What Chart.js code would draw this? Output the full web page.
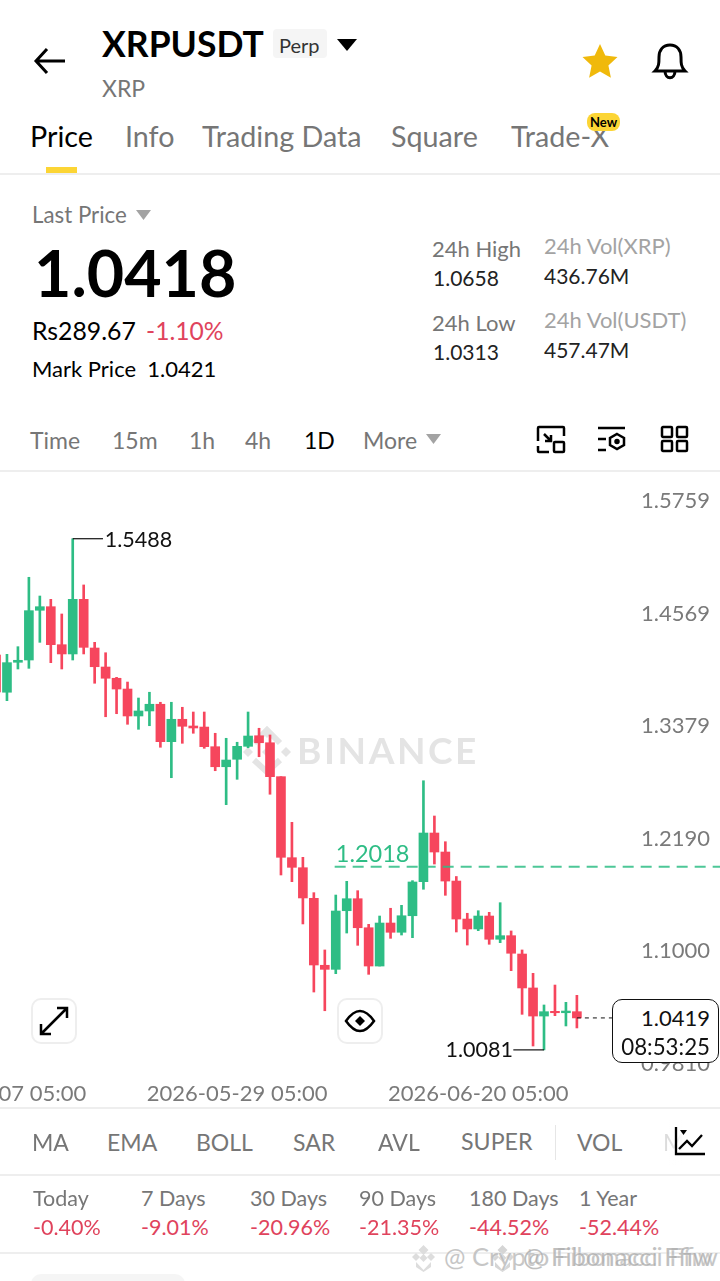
<!DOCTYPE html>
<html><head><meta charset="utf-8">
<script src="https://cdn.jsdelivr.net/npm/chart.js@4"></script>
<style>
html,body{margin:0;padding:0;background:#fff}
#page{position:relative;width:720px;height:1281px;overflow:hidden;background:#fff;font-family:Lato,sans-serif;color:#000}
canvas{position:absolute;left:-110px;top:470px}
.t{position:absolute;white-space:nowrap;transform:translateY(-50%);line-height:1}
.g{color:#767676}.l{color:#a3a3a3}.r{color:#e0435c}.b{font-weight:700}
.hr{position:absolute;left:0;width:720px;height:1.5px;background:#eeeeee}
svg{position:absolute;overflow:visible}
.btn{position:absolute;width:42px;height:42px;border:2px solid #eeeeee;border-radius:10px;background:#fff}
#box{position:absolute;left:612px;top:999px;width:105px;height:62px;border:1.5px solid #111;border-radius:10px;background:#fff}
</style></head><body><div id="page">
<canvas id="c" width="830" height="637"></canvas>

<svg style="left:34px;top:47px" width="32" height="28" fill="none" stroke="#000" stroke-width="3"><path d="M31 14H2M13 2 2 14l11 12"/></svg>
<div class="t b" style="left:102px;top:44px;font-size:35.500px">XRPUSDT</div>
<div style="position:absolute;left:273px;top:29px;width:54px;height:29px;background:#f5f5f5;border-radius:4px"></div>
<div class="t" style="left:279px;top:45px;font-size:20px;color:#333">Perp</div>
<svg style="left:337px;top:39px" width="20" height="12"><path d="M0 0H20L10 12Z" fill="#000"/></svg>
<div class="t g" style="left:102px;top:88px;font-size:23px">XRP</div>
<svg style="left:582px;top:43px" width="36" height="35"><path d="M18 1l5.3 11.6 12.2 1.4-9.1 8.4 2.5 12.3L18 28.6 7.100 34.700l2.500-12.300L.5 14l12.200-1.400Z" fill="#f0b90b"/></svg>
<svg style="left:653px;top:43px" width="34" height="36" fill="none" stroke="#000" stroke-width="3"><path d="M2 28c4-4 4-8 4-14C6 7 10 2 17 2s11 5 11 12c0 6 0 10 4 14ZM12 28c0 9 10 9 10 0"/></svg>

<div class="t" style="left:30px;top:135.500px;font-size:28.700px">Price</div>
<div class="t g" style="left:125px;top:135.500px;font-size:28.700px">Info</div>
<div class="t g" style="left:202px;top:135.500px;font-size:28.700px">Trading Data</div>
<div class="t g" style="left:391px;top:135.500px;font-size:28.700px">Square</div>
<div class="t g" style="left:511px;top:135.500px;font-size:28.700px">Trade-X</div>
<div style="position:absolute;left:587px;top:113px;width:33px;height:18px;background:#fcd535;border-radius:8px"></div>
<div class="t b" style="left:590px;top:122px;font-size:13px">New</div>
<div style="position:absolute;left:46px;top:167px;width:31px;height:6px;background:#fcd535"></div>
<div class="hr" style="top:173px"></div>

<div class="t g" style="left:32px;top:215px;font-size:22.300px">Last Price</div>
<svg style="left:136px;top:210px" width="15" height="10"><path d="M0 0H15L7.500 10Z" fill="#a3a3a3"/></svg>
<div class="t b" style="left:34px;top:272px;font-size:64.500px">1.0418</div>
<div class="t" style="left:32px;top:331px;font-size:24.800px">Rs289.67</div>
<div class="t r" style="left:146px;top:331px;font-size:24.600px">-1.10%</div>
<div class="t" style="left:32px;top:369px;font-size:22px">Mark Price&nbsp; 1.0421</div>
<div class="t g" style="left:432px;top:249px;font-size:22px">24h High</div>
<div class="t" style="left:433px;top:277px;font-size:21px;color:#222">1.0658</div>
<div class="t g" style="left:432px;top:323px;font-size:22px">24h Low</div>
<div class="t" style="left:433px;top:351px;font-size:21px;color:#222">1.0313</div>
<div class="t l" style="left:544px;top:246px;font-size:22px">24h Vol(XRP)</div>
<div class="t" style="left:544px;top:275px;font-size:21px;color:#222">436.76M</div>
<div class="t l" style="left:544px;top:320px;font-size:22px">24h Vol(USDT)</div>
<div class="t" style="left:544px;top:349px;font-size:21px;color:#222">457.47M</div>

<div class="t g" style="left:30px;top:440px;font-size:23px">Time</div>
<div class="t g" style="left:112px;top:440px;font-size:23px">15m</div>
<div class="t g" style="left:189px;top:440px;font-size:23px">1h</div>
<div class="t g" style="left:245px;top:440px;font-size:23px">4h</div>
<div class="t" style="left:304px;top:439.500px;font-size:23px">1D</div>
<div class="t g" style="left:363px;top:440px;font-size:23px">More</div>
<svg style="left:426px;top:434px" width="15" height="10"><path d="M0 0H15L7.500 10Z" fill="#a3a3a3"/></svg>
<svg style="left:537px;top:426px" width="28" height="27" fill="none" stroke="#000" stroke-width="2.500"><path d="M1 15V2Q1 1 2 1H26Q27 1 27 2V10M12 26H2Q1 26 1 25V20M7 8l7 7M8 15h6V9"/><rect x="17" y="16" width="10" height="10" rx="1"/></svg>
<svg style="left:597px;top:426px" width="30" height="27" fill="none" stroke="#000" stroke-width="2.500"><path d="M1 2H28M1 13H9M1 24H9"/><path d="M20 8l7 4v7l-7 4-7-4v-7Z"/><circle cx="20" cy="15.500" r="1.500" fill="#000"/></svg>
<svg style="left:661px;top:426px" width="28" height="27" fill="none" stroke="#000" stroke-width="2.500"><rect x="1" y="1" width="10" height="10" rx="1"/><rect x="16" y="1" width="10" height="10" rx="1"/><rect x="1" y="15" width="10" height="10" rx="1"/><rect x="16" y="15" width="10" height="10" rx="1"/></svg>
<div class="hr" style="top:470px"></div>

<div class="btn" style="left:31px;top:998px"></div>
<svg style="left:39px;top:1006px" width="30" height="30" fill="none" stroke="#000" stroke-width="2.500"><path d="M2 28 28 2M18 2H28V12M2 18V28H12"/></svg>
<div class="btn" style="left:337px;top:998px"></div>
<svg style="left:345px;top:1010px" width="30" height="22" fill="none" stroke="#000" stroke-width="2.500"><path d="M1 11Q15-9 29 11 15 31 1 11Z"/><path d="M15 6l5 5-5 5-5-5Z" fill="#000" stroke="none"/></svg>

<div id="box"></div>
<div class="t" style="right:10px;top:1018px;font-size:22px;color:#111">1.0419</div>
<div class="t" style="right:10px;top:1047px;font-size:22.300px;color:#111">08:53:25</div>

<div class="hr" style="top:1107px"></div>
<div class="t g" style="left:32px;top:1142px;font-size:23px">MA</div>
<div class="t g" style="left:107px;top:1142px;font-size:23px">EMA</div>
<div class="t g" style="left:196px;top:1142px;font-size:23px">BOLL</div>
<div class="t g" style="left:293px;top:1142px;font-size:23px">SAR</div>
<div class="t g" style="left:378px;top:1142px;font-size:23px">AVL</div>
<div class="t g" style="left:461px;top:1142px;font-size:23.200px">SUPER</div>
<div style="position:absolute;left:555px;top:1125px;width:1px;height:35px;background:#e6e6e6"></div>
<div class="t g" style="left:577px;top:1142px;font-size:23px">VOL</div>
<div class="t" style="left:663px;top:1142px;font-size:23px;color:#dcdcdc">M</div>
<div style="position:absolute;left:668px;top:1120px;width:52px;height:45px;background:linear-gradient(90deg,rgba(255,255,255,0),#fff 30%)"></div>
<svg style="left:675px;top:1127px" width="31" height="29" fill="none" stroke="#000" stroke-width="2.300"><path d="M1 0V27H30"/><path d="M4 22l8-8 5 5 10-11"/><path d="M5 3H12L8.500 8Z" fill="#000" stroke="none"/></svg>
<div class="hr" style="top:1174px"></div>

<div class="t g" style="left:33px;top:1199px;font-size:21.500px">Today</div>
<div class="t g" style="left:141px;top:1199px;font-size:21.500px">7 Days</div>
<div class="t g" style="left:250px;top:1199px;font-size:21.500px">30 Days</div>
<div class="t g" style="left:359px;top:1199px;font-size:21.500px">90 Days</div>
<div class="t g" style="left:469px;top:1199px;font-size:21.500px">180 Days</div>
<div class="t g" style="left:579px;top:1199px;font-size:21.500px">1 Year</div>
<div class="t r" style="left:33px;top:1228px;font-size:21.500px">-0.40%</div>
<div class="t r" style="left:141px;top:1228px;font-size:21.500px">-9.01%</div>
<div class="t r" style="left:250px;top:1228px;font-size:21.500px">-20.96%</div>
<div class="t r" style="left:359px;top:1228px;font-size:21.500px">-21.35%</div>
<div class="t r" style="left:469px;top:1228px;font-size:21.500px">-44.52%</div>
<div class="t r" style="left:579px;top:1228px;font-size:21.500px">-52.44%</div>
<div class="hr" style="top:1252px"></div>
<div style="position:absolute;left:31px;top:1274px;width:154px;height:20px;background:#f5f5f5;border-radius:12px"></div>

<svg style="left:411px;top:1244px" width="25" height="28" fill="#dddddd"><path d="M12.500 1l5 5-5 5-5-5ZM5 9l4 4-4 4-4-4ZM20 9l4 4-4 4-4-4ZM12.500 10l4 4-4 4-4-4ZM5 18l7.500 8 7.500-8v5l-7.500 5L5 23Z"/></svg>
<svg style="left:490px;top:1244px" width="25" height="28" fill="#d5d5d5"><path d="M12.500 1l5 5-5 5-5-5ZM5 9l4 4-4 4-4-4ZM20 9l4 4-4 4-4-4ZM12.500 10l4 4-4 4-4-4ZM5 18l7.500 8 7.500-8v5l-7.500 5L5 23Z"/></svg>
<div class="t" style="left:444px;top:1257px;font-size:25.600px;color:#bdbdbd;opacity:.85;text-shadow:0 0 2px #fff">@ Crypto Fibonacci Ffiw</div>
<div class="t" style="left:523px;top:1257px;font-size:25.600px;color:#b0b0b0;opacity:.8;text-shadow:0 0 2px #fff">@ Fibonacci Ffiw</div>
</div>
<script>
// Daily candles, 2026-05-07 to 2026-06-29 (54 sessions)
const firstDay = '2026-05-07';
const opens  = [1.4258,1.3864,1.4181,1.4205,1.4731,1.4769,1.4367,1.4269,1.4847,1.4332,1.4131,1.4012,1.3898,1.3613,1.3666,1.3737,1.3341,1.3578,1.3507,1.3496,1.3288,1.3076,1.3155,1.3292,1.3404,1.3330,1.2971,1.2114,1.2008,1.1684,1.0976,1.0933,1.1553,1.1680,1.1373,1.0968,1.1423,1.1325,1.1500,1.1860,1.2375,1.2174,1.1867,1.1465,1.1360,1.1497,1.1251,1.1289,1.1095,1.0736,1.0439,1.0489,1.0474,1.0485];
const highs  = [1.4300,1.4265,1.4346,1.5080,1.4882,1.4847,1.4692,1.5488,1.4999,1.4392,1.4282,1.4022,1.3972,1.3803,1.3864,1.3758,1.3758,1.3705,1.3655,1.3655,1.3430,1.3377,1.3335,1.3655,1.3483,1.3412,1.2971,1.2488,1.2118,1.1744,1.1138,1.1719,1.1864,1.1765,1.1409,1.1497,1.1579,1.1610,1.1871,1.2928,1.2555,1.2283,1.1915,1.1526,1.1553,1.1536,1.1638,1.1339,1.1138,1.0891,1.0556,1.0767,1.0584,1.0658];
const lows   = [1.3760,1.3775,1.4110,1.4117,1.4392,1.4177,1.4110,1.4205,1.4269,1.3959,1.3605,1.3637,1.3525,1.3472,1.3510,1.3282,1.2960,1.3324,1.3430,1.3271,1.3034,1.2675,1.2943,1.3277,1.3182,1.2785,1.1931,1.1860,1.1413,1.0693,1.0495,1.0887,1.1317,1.1187,1.0880,1.0968,1.1261,1.1296,1.1268,1.1780,1.2047,1.1716,1.1328,1.1190,1.1342,1.1198,1.1215,1.0919,1.0457,1.0122,1.0081,1.0443,1.0334,1.0313];
const closes = [1.3867,1.4177,1.4202,1.4727,1.4769,1.4367,1.4269,1.4847,1.4339,1.4134,1.4012,1.3898,1.3613,1.3666,1.3737,1.3341,1.3578,1.3504,1.3486,1.3288,1.3076,1.3147,1.3292,1.3401,1.3330,1.2971,1.2118,1.2012,1.1688,1.0979,1.0933,1.1550,1.1680,1.1373,1.0968,1.1423,1.1325,1.1500,1.1857,1.2375,1.2174,1.1867,1.1465,1.1360,1.1497,1.1251,1.1289,1.1103,1.0736,1.0439,1.0485,1.0474,1.0492,1.0419];

const priceTicks = [1.5759,1.4569,1.3379,1.2190,1.1000,0.9810];
const dateTickIndex = [0,22,44];
const dateTickLabels = ['2026-05-07 05:00','2026-05-29 05:00','2026-06-20 05:00'];

const highLabel = 1.5488, lowLabel = 1.0081, markLine = 1.2018, lastLine = 1.0419;
const highIndex = 7, lowIndex = 50, lastIndex = 53;

const GREEN='#2ebd85', RED='#f6465d', GREY='#7a7a7a';
const FONT='Lato, sans-serif';
const idx = opens.map((_,i)=>i);
const up = idx.map(i=>closes[i]>=opens[i]);
const colors = up.map(u=>u?GREEN:RED);

const overlay = {
  id:'overlay',
  beforeDatasetsDraw(chart){
    // Watermark
    const c=chart.ctx; c.save();
    const ox=110, oy=-470;
    c.fillStyle='#e4e4e4';
    c.font='bold 37px '+FONT; c.textBaseline='middle'; c.textAlign='left';
    c.letterSpacing='2.6px';
    c.fillText('BINANCE',297+ox,752+oy);
    c.letterSpacing='0px';
    const d=(x,y,r)=>{c.beginPath();c.moveTo(x,y-r);c.lineTo(x+r,y);c.lineTo(x,y+r);c.lineTo(x-r,y);c.closePath();c.fill();};
    d(267+ox,733+oy,5);d(248+ox,752+oy,5);d(286+ox,752+oy,5);d(267+ox,752+oy,5);
    c.strokeStyle='#e4e4e4';c.lineWidth=6;
    c.beginPath();c.moveTo(254+ox,760+oy);c.lineTo(267+ox,772+oy);c.lineTo(280+ox,760+oy);c.stroke();
    c.beginPath();c.moveTo(254+ox,743+oy);c.lineTo(267+ox,730+oy);c.lineTo(280+ox,743+oy);c.stroke();
    c.restore();
  },
  afterDatasetsDraw(chart){
    const c=chart.ctx, x=chart.scales.x, y=chart.scales.y;
    c.save();
    c.font='21.5px '+FONT; c.textBaseline='middle'; c.fillStyle='#111';
    c.textAlign='left';
    c.fillText(highLabel.toFixed(4), x.getPixelForValue(highIndex)+32, y.getPixelForValue(highLabel)+1);
    c.textAlign='right';
    c.fillText(lowLabel.toFixed(4), x.getPixelForValue(lowIndex)-31, y.getPixelForValue(lowLabel));
    c.textAlign='left'; c.fillStyle=GREEN; c.font='23.5px '+FONT;
    c.fillText(markLine.toFixed(4), x.getPixelForValue(31), y.getPixelForValue(markLine)-12);
    c.restore();
  }
};

new Chart(document.getElementById('c'),{
  type:'bar',
  data:{datasets:[
    {label:'mark',type:'line',order:0,data:[{x:30.9,y:markLine},{x:66.1,y:markLine}],borderColor:'rgba(46,189,133,.85)',borderWidth:2,borderDash:[11,7],pointRadius:0,fill:false},
    {label:'last',type:'line',order:0,data:[{x:lastIndex,y:lastLine},{x:56.2,y:lastLine}],borderColor:'#111',borderWidth:1,borderDash:[4,4],pointRadius:0,fill:false},
    {label:'hi',type:'line',order:0,data:[{x:highIndex,y:highLabel},{x:9.76,y:highLabel}],borderColor:'#111',borderWidth:1.2,pointRadius:0,fill:false},
    {label:'lo',type:'line',order:0,data:[{x:47.2,y:lowLabel},{x:lowIndex,y:lowLabel}],borderColor:'#111',borderWidth:1.2,pointRadius:0,fill:false},
    {label:'body',order:1,data:idx.map(i=>({x:i,y:[opens[i],closes[i]]})),backgroundColor:colors,barThickness:9,grouped:false},
    {label:'wick',order:2,data:idx.map(i=>({x:i,y:[lows[i],highs[i]]})),backgroundColor:colors,barThickness:2,grouped:false}
  ]},
  plugins:[overlay],
  options:{
    responsive:false,animation:false,devicePixelRatio:1,
    layout:{padding:0},
    plugins:{legend:{display:false},tooltip:{enabled:false}},
    scales:{
      x:{type:'linear',offset:false,min:-9.672,max:66.058,
        grid:{display:false,drawTicks:false},border:{display:false},
        afterBuildTicks(s){s.ticks=dateTickIndex.map(v=>({value:v}));},
        afterFit(s){s.height=28;s.paddingLeft=0;s.paddingRight=0;},
        ticks:{callback:(v,i)=>dateTickLabels[i],autoSkip:false,maxRotation:0,minRotation:0,padding:2,color:GREY,font:{family:FONT,size:22}}},
      y:{type:'linear',position:'right',min:0.97730,max:1.62149,
        grid:{display:false,drawTicks:false},border:{display:false},
        afterBuildTicks(s){s.ticks=priceTicks.map(v=>({value:v}));},
        afterFit(s){s.width=0;s.paddingTop=0;s.paddingBottom=0;},
        ticks:{mirror:true,padding:-10,labelOffset:-12,callback:v=>v.toFixed(4),autoSkip:false,color:GREY,font:{family:FONT,size:22}}}
    }
  }
});
</script>
</body></html>
